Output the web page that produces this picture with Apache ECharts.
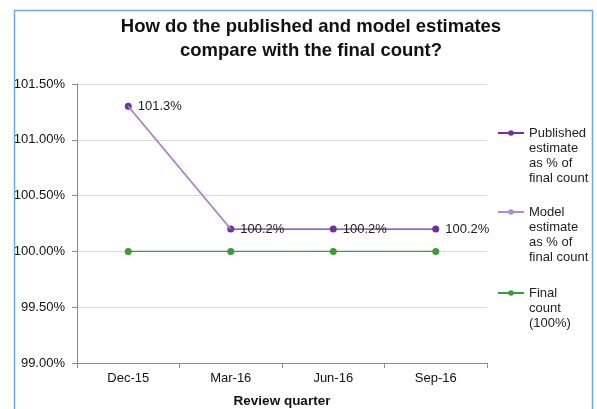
<!DOCTYPE html>
<html><head><meta charset="utf-8">
<script src="https://cdn.jsdelivr.net/npm/echarts@6/dist/echarts.min.js"></script>
<style>html,body{margin:0;padding:0;background:#fff}#c{width:597px;height:409px}</style>
</head><body><div id="c"></div>
<script>
var categories = ['Dec-15', 'Mar-16', 'Jun-16', 'Sep-16'];
var published = [101.3, 100.2, 100.2, 100.2];
var model = [101.3, 100.2, null, null];
var finalCount = [100, 100, 100, 100];
var yTicks = [99, 99.5, 100, 100.5, 101, 101.5];

var chart = echarts.init(document.getElementById('c'));
var font = 'Liberation Sans, Arial, sans-serif';
var dark = '#7030A0', light = '#B38BCB', green = '#3E9A3A';
function legendFor(name, iconY, lines) {
  var n = lines.length;
  var text = new Array(n).join('\n') + lines.join('\n');
  return {
    data: [name], left: 497, top: iconY - (2 * n - 1) * 15 / 2, orient: 'vertical',
    itemWidth: 26, itemHeight: 7, padding: 0,
    formatter: function () { return text; },
    textStyle: { fontFamily: font, fontSize: 13, color: '#222', lineHeight: 15 }
  };
}
chart.setOption({
  animation: false,
  title: {
    text: 'How do the published and model estimates\ncompare with the final count?',
    left: 306, top: 10, textAlign: 'center',
    textStyle: { fontFamily: font, fontSize: 18.5, fontWeight: 'bold', color: '#111', lineHeight: 24 }
  },
  legend: [
    legendFor('Published estimate as % of final count', 133, ['Published', 'estimate', 'as % of', 'final count']),
    legendFor('Model estimate as % of final count', 212, ['Model', 'estimate', 'as % of', 'final count']),
    legendFor('Final count (100%)', 293, ['Final', 'count', '(100%)'])
  ],
  grid: { left: 77, right: 110, top: 84, bottom: 46, containLabel: false, outerBoundsMode: 'none' },
  xAxis: {
    type: 'category', data: categories, boundaryGap: true,
    name: 'Review quarter', nameLocation: 'middle', nameGap: 31,
    nameTextStyle: { fontFamily: font, fontSize: 13.5, fontWeight: 'bold', color: '#111' },
    axisLine: { lineStyle: { color: '#8c8c8c' } },
    axisTick: { show: true, length: 5, alignWithLabel: false, lineStyle: { color: '#8c8c8c' } },
    axisLabel: { fontFamily: font, fontSize: 13, color: '#111', margin: 9 },
    splitLine: { show: false }
  },
  yAxis: {
    type: 'value', min: 99, max: 101.5, interval: 0.5,
    axisLine: { show: true, lineStyle: { color: '#8c8c8c' } },
    axisTick: { show: true, length: 5, lineStyle: { color: '#8c8c8c' } },
    axisLabel: { fontFamily: font, fontSize: 13, color: '#111', margin: 12,
      formatter: function (v) { return v.toFixed(2) + '%'; } },
    splitLine: { lineStyle: { color: '#d9d9d9' } }
  },
  series: [
    { name: 'Published estimate as % of final count', type: 'line', data: published,
      symbol: 'circle', symbolSize: 7, z: 2,
      itemStyle: { color: dark }, lineStyle: { color: dark, width: 1.2 },
      label: { show: true, position: 'right', distance: 6, fontFamily: font, fontSize: 13, color: '#222',
        formatter: function (p) { return p.value.toFixed(1) + '%'; } } },
    { name: 'Model estimate as % of final count', type: 'line',
      data: model.map(function (v) { return v === null ? null : { value: v, symbol: 'none' }; }),
      symbol: 'circle', symbolSize: 7, z: 3,
      itemStyle: { color: light }, lineStyle: { color: light, width: 1.6 } },
    { name: 'Final count (100%)', type: 'line', data: finalCount,
      symbol: 'circle', symbolSize: 7, z: 2,
      itemStyle: { color: green }, lineStyle: { color: green, width: 1.2 } }
  ],
  graphic: [
    { type: 'rect', shape: { x: 0, y: 0, width: 14, height: 409 }, style: { fill: '#fff' }, z: 100 },
    { type: 'rect', shape: { x: 0, y: 0, width: 597, height: 10 }, style: { fill: '#fff' }, z: 100 },
    { type: 'polyline', shape: { points: [[14.5, 409], [14.5, 10.5], [592.5, 10.5], [592.5, 409]] },
      style: { stroke: '#6FA8DC', lineWidth: 1.5, fill: null }, z: 101 }
  ]
});
</script></body></html>
